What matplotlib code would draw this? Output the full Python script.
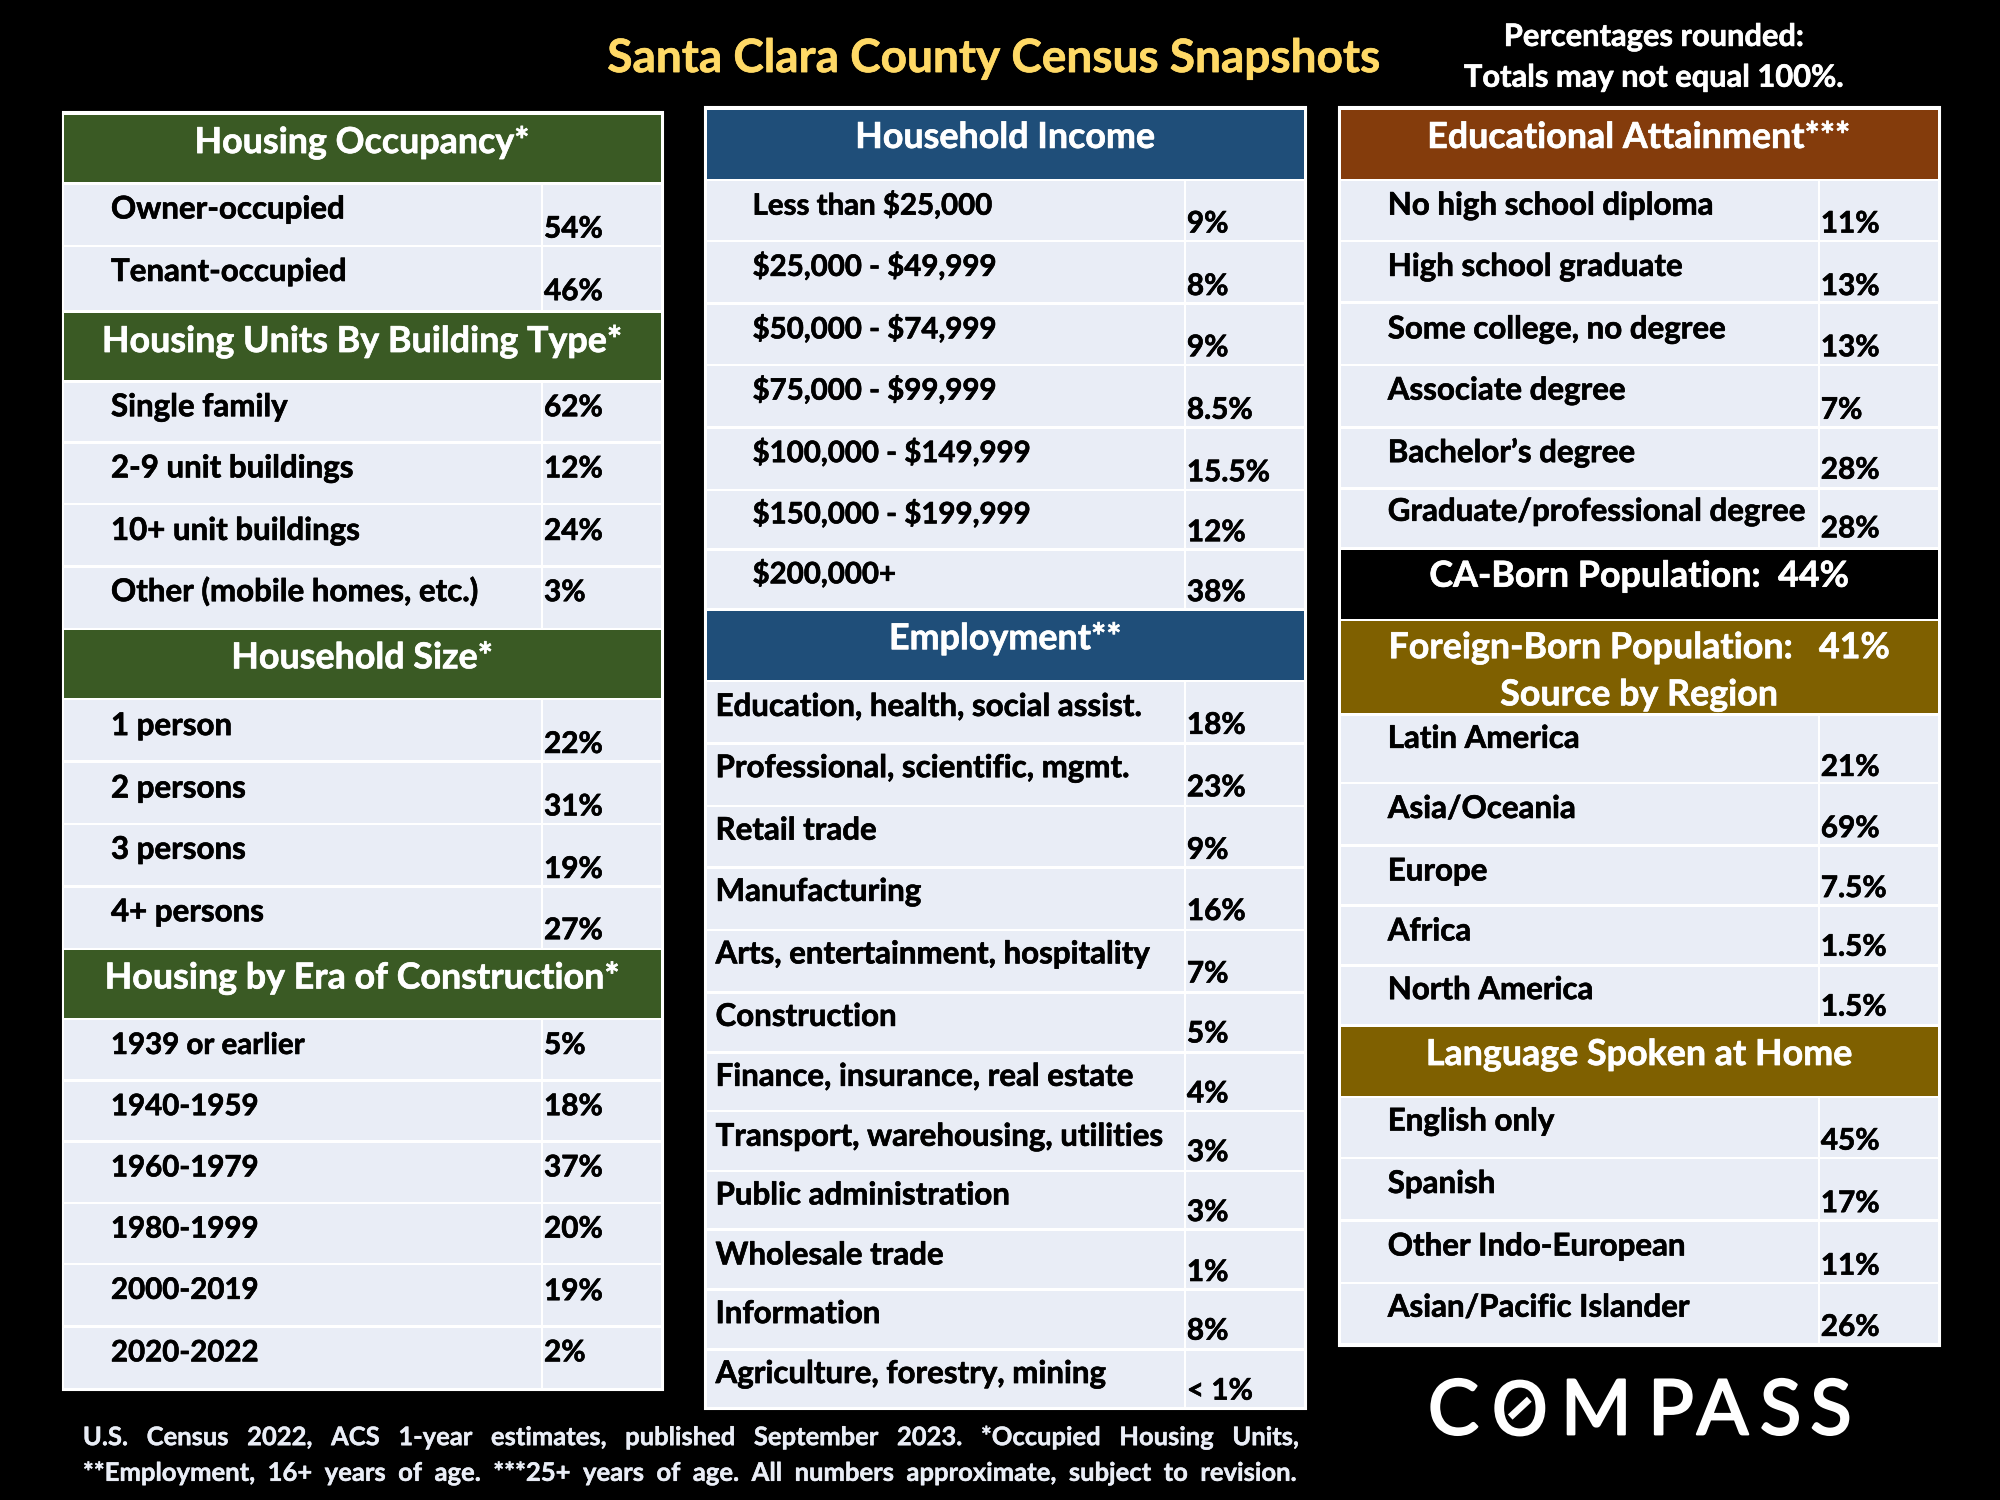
import matplotlib
matplotlib.use("Agg")
import matplotlib.pyplot as plt
from matplotlib.patches import Rectangle
import matplotlib.patheffects as pe

plt.rcParams["text.parse_math"] = False

# ---------- data ----------
TITLE = "Santa Clara County Census Snapshots"
NOTE = ["Percentages rounded:", "Totals may not equal 100%."]

OCCUPANCY_LABELS = ["Owner-occupied", "Tenant-occupied"]
OCCUPANCY_VALUES = ["54%", "46%"]
BUILDING_LABELS = ["Single family", "2-9 unit buildings", "10+ unit buildings", "Other (mobile homes, etc.)"]
BUILDING_VALUES = ["62%", "12%", "24%", "3%"]
SIZE_LABELS = ["1 person", "2 persons", "3 persons", "4+ persons"]
SIZE_VALUES = ["22%", "31%", "19%", "27%"]
ERA_LABELS = ["1939 or earlier", "1940-1959", "1960-1979", "1980-1999", "2000-2019", "2020-2022"]
ERA_VALUES = ["5%", "18%", "37%", "20%", "19%", "2%"]

INCOME_LABELS = ["Less than $25,000", "$25,000 - $49,999", "$50,000 - $74,999", "$75,000 - $99,999",
                 "$100,000 - $149,999", "$150,000 - $199,999", "$200,000+"]
INCOME_VALUES = ["9%", "8%", "9%", "8.5%", "15.5%", "12%", "38%"]
EMPLOY_LABELS = ["Education, health, social assist.", "Professional, scientific, mgmt.", "Retail trade",
                 "Manufacturing", "Arts, entertainment, hospitality", "Construction",
                 "Finance, insurance, real estate", "Transport, warehousing, utilities",
                 "Public administration", "Wholesale trade", "Information", "Agriculture, forestry, mining"]
EMPLOY_VALUES = ["18%", "23%", "9%", "16%", "7%", "5%", "4%", "3%", "3%", "1%", "8%", "< 1%"]

EDU_LABELS = ["No high school diploma", "High school graduate", "Some college, no degree",
              "Associate degree", "Bachelor\u2019s degree", "Graduate/professional degree"]
EDU_VALUES = ["11%", "13%", "13%", "7%", "28%", "28%"]
REGION_LABELS = ["Latin America", "Asia/Oceania", "Europe", "Africa", "North America"]
REGION_VALUES = ["21%", "69%", "7.5%", "1.5%", "1.5%"]
LANG_LABELS = ["English only", "Spanish", "Other Indo-European", "Asian/Pacific Islander"]
LANG_VALUES = ["45%", "17%", "11%", "26%"]

FOOTER = ["U.S. Census 2022, ACS 1-year estimates, published September 2023. *Occupied Housing Units,",
          "**Employment, 16+ years of age. ***25+ years of age. All numbers approximate, subject to revision."]
LOGO = "COMPASS"

# ---------- style ----------
GREEN, BLUE, BROWN, GOLD = "#3A5A24", "#1F4E79", "#843C0C", "#7F6000"
ROW = "#E9EDF6"
FONT = "Lato"
LABEL_PT, DIGIT_PT, VALUE_PT, HEAD_PT = 22.5, 21.2, 21.4, 25.8

plt.rcParams["font.family"] = [FONT, "DejaVu Sans"]
fig = plt.figure(figsize=(20, 15), dpi=100, facecolor="black")
ax = fig.add_axes([0, 0, 1, 1])
ax.set_xlim(0, 1568)
ax.set_ylim(1176, 0)
ax.axis("off")

COLS = {1: (49, 520, 425, 284), 2: (553, 1024, 929, 788), 3: (1050, 1521, 1426, 1285)}
BASE = 8.3  # row text centre to baseline
HEAD_BASE = 10  # header text centre to baseline


def thick(color, lw=0.45):
    return [pe.withStroke(linewidth=lw, foreground=color)]


def frame(col, top, bottom):
    l, r = COLS[col][:2]
    ax.add_patch(Rectangle((l, top), r - l, bottom - top, fc="white", ec="white", lw=1.5, zorder=1))


def header(col, top, bottom, lines, ys, color):
    l, r, _, cx = COLS[col]
    ax.add_patch(Rectangle((l + 1.5, top + 1), r - l - 3, bottom - top - 2, fc=color, ec="none", zorder=2))
    for line, y in zip(lines, ys):
        ax.text(cx, y + HEAD_BASE, line, color="white", fontsize=HEAD_PT, fontweight="bold",
                ha="center", va="baseline", zorder=3, path_effects=thick("white"))


def rows(col, edges, labels, values, label_ys, value_ys, label_x, label_pt=LABEL_PT):
    l, r, split, _ = COLS[col]
    for i, (lab, val) in enumerate(zip(labels, values)):
        t, b = edges[i], edges[i + 1]
        ax.add_patch(Rectangle((l + 1.5, t + 1), split - l - 2.5, b - t - 2, fc=ROW, ec="none", zorder=2))
        ax.add_patch(Rectangle((split + 1, t + 1), r - split - 2.5, b - t - 2, fc=ROW, ec="none", zorder=2))
        ax.text(label_x, label_ys[i] + BASE, lab, color="black", fontsize=label_pt, fontweight="bold",
                ha="left", va="baseline", zorder=3, path_effects=thick("black"))
        ax.text(split + 1.5, value_ys[i] + BASE, val, color="black", fontsize=VALUE_PT, fontweight="bold",
                ha="left", va="baseline", zorder=3, path_effects=thick("black"))


# column 1
frame(1, 88, 1090)
header(1, 89, 144, ["Housing Occupancy*"], [110], GREEN)
rows(1, [144, 193, 244], OCCUPANCY_LABELS, OCCUPANCY_VALUES, [163, 212], [178, 227], 87)
header(1, 244, 299, ["Housing Units By Building Type*"], [266], GREEN)
rows(1, [299, 347, 395, 444, 493], BUILDING_LABELS, BUILDING_VALUES, [318, 366, 415, 463], [318, 366, 415, 463], 87)
header(1, 493, 548, ["Household Size*"], [514], GREEN)
rows(1, [548, 597, 646, 695, 744], SIZE_LABELS, SIZE_VALUES, [568, 617, 665, 714], [582, 631, 680, 728], 87)
header(1, 744, 799, ["Housing by Era of Construction*"], [765], GREEN)
rows(1, [799, 847, 895, 943, 991, 1040, 1089], ERA_LABELS, ERA_VALUES,
     [818, 866, 914, 962, 1010, 1059], [818, 866, 914, 962, 1011, 1059], 87, DIGIT_PT)

# column 2
frame(2, 84, 1105)
header(2, 85, 141, ["Household Income"], [106], BLUE)
rows(2, [141, 189, 238, 286, 335, 384, 431, 478], INCOME_LABELS, INCOME_VALUES,
     [160, 208, 257, 305, 354, 402, 449], [174, 223, 271, 320, 369, 416, 463], 590, DIGIT_PT)
header(2, 478, 534, ["Employment**"], [499], BLUE)
rows(2, [534, 583, 632, 680, 729, 778, 825, 871, 918, 964, 1011, 1058, 1104], EMPLOY_LABELS, EMPLOY_VALUES,
     [553, 601, 650, 698, 747, 796, 843, 890, 936, 983, 1029, 1076],
     [567, 616, 665, 713, 762, 809, 856, 902, 949, 996, 1042, 1089], 561)

# column 3
frame(3, 84, 1055)
header(3, 85, 141, ["Educational Attainment***"], [106], BROWN)
rows(3, [141, 189, 237, 286, 335, 383, 430], EDU_LABELS, EDU_VALUES,
     [160, 208, 257, 305, 354, 400], [174, 223, 271, 320, 367, 413], 1088)
header(3, 430, 486, ["CA-Born Population:  44%"], [450], "black")
header(3, 486, 560, ["Foreign-Born Population:   41%", "Source by Region"], [506, 543], GOLD)
rows(3, [560, 614, 663, 710, 757, 804], REGION_LABELS, REGION_VALUES,
     [578, 633, 682, 729, 775], [600, 648, 695, 741, 788], 1088)
header(3, 804, 860, ["Language Spoken at Home"], [825], GOLD)
rows(3, [860, 908, 957, 1006, 1054], LANG_LABELS, LANG_VALUES,
     [878, 927, 976, 1024], [893, 942, 991, 1039], 1088)

# title and note
ax.text(779, 56.5, TITLE, color="#FFD966", fontsize=33.1, fontweight="bold", ha="center", va="baseline",
        path_effects=thick("#FFD966"))
for line, y in zip(NOTE, [36, 68]):
    ax.text(1297, y, line, color="white", fontsize=22.2, fontweight="bold", ha="center", va="baseline",
            path_effects=thick("white"))

# footer: justified look through widened word gaps
for line, y, size, gap in zip(FOOTER, [1133, 1161], [18.4, 18.45], ["   ", "  "]):
    ax.text(65, y, line.replace(" ", gap), color=ROW, fontsize=size, fontweight="bold", ha="left", va="baseline",
            path_effects=thick(ROW, 0.3))

# logo
logo_x = [1139.5, 1191.5, 1251.5, 1310, 1350.5, 1396, 1435.5]
logo_font = ["Lato", "DejaVu Sans", "Lato", "Lato", "Lato", "Lato", "Lato"]
logo_pt = [55, 52, 55, 55, 55, 55, 55]
for ch, x, fam, size in zip(LOGO, logo_x, logo_font, logo_pt):
    ax.text(x, 1124.5, ch, color="white", fontsize=size, family=fam, fontweight="normal", ha="center", va="baseline",
            path_effects=thick("white", 1.6))
ax.plot([1184, 1199], [1111, 1097], color="white", lw=5, solid_capstyle="butt")

fig.savefig("out.png", dpi=100, facecolor="black")
